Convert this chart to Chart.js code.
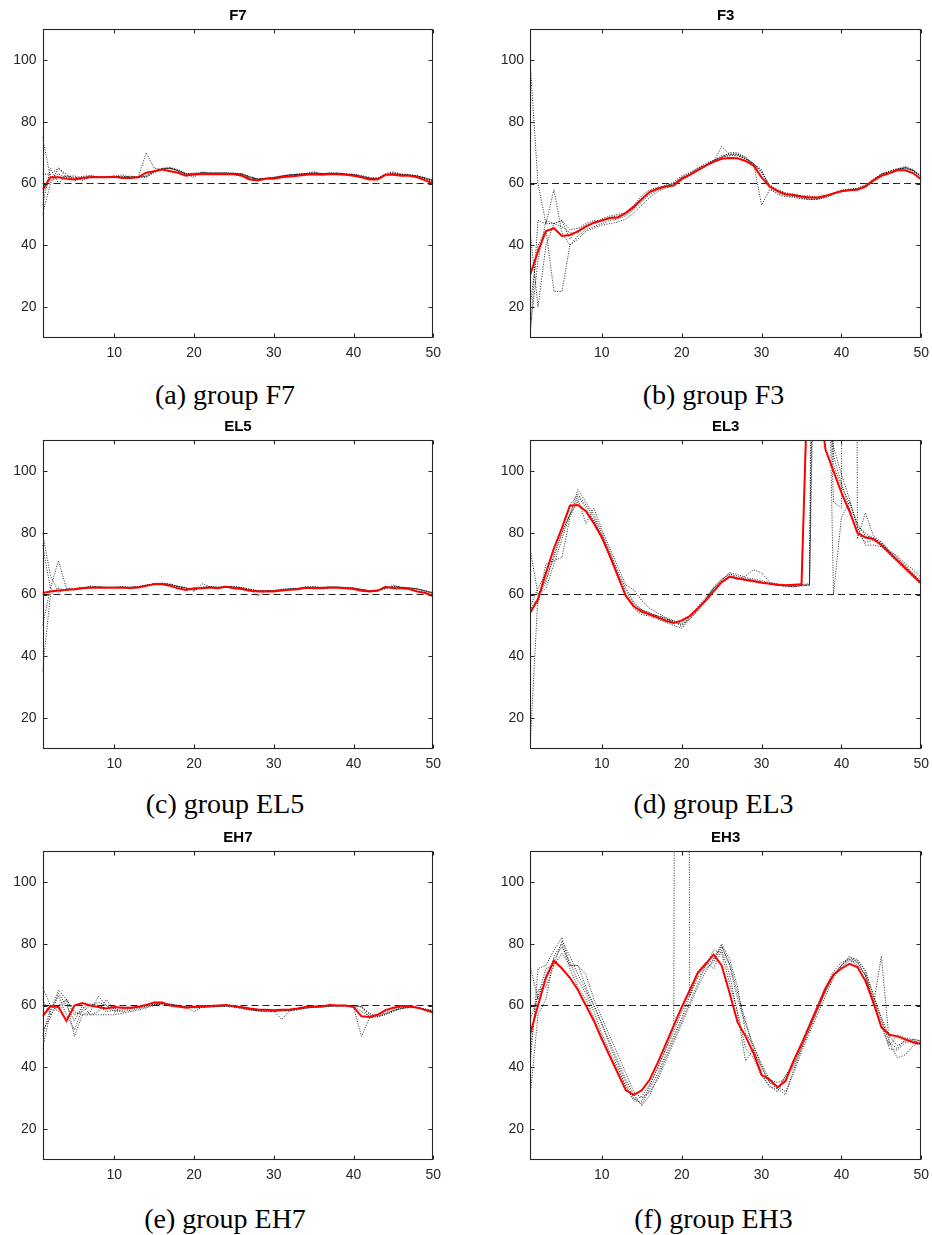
<!DOCTYPE html>
<html>
<head>
<meta charset="utf-8">
<script src="https://cdn.jsdelivr.net/npm/chart.js@4.4.1/dist/chart.umd.min.js"></script>
<style>
  html, body { margin: 0; padding: 0; background: #fff; }
  body { width: 932px; height: 1235px; position: relative; overflow: hidden; }
  canvas { position: absolute; display: block; }
  .cap { position: absolute; width: 400px; text-align: center; font-family: "Liberation Serif", "Times New Roman", serif;
         font-size: 28px; line-height: 28px; height: 28px; color: #000; white-space: nowrap; }
</style>
</head>
<body>
<canvas id="c0" width="466" height="370" style="left:0px;top:0px"></canvas>
<canvas id="c1" width="490" height="370" style="left:466px;top:0px"></canvas>
<canvas id="c2" width="466" height="370" style="left:0px;top:411.4px"></canvas>
<canvas id="c3" width="490" height="370" style="left:466px;top:411.4px"></canvas>
<canvas id="c4" width="466" height="370" style="left:0px;top:822.4px"></canvas>
<canvas id="c5" width="490" height="370" style="left:466px;top:822.4px"></canvas>
<div class="cap" style="left:25px;top:380.9px">(a) group F7</div>
<div class="cap" style="left:513.5px;top:380.9px">(b) group F3</div>
<div class="cap" style="left:25px;top:789.9px">(c) group EL5</div>
<div class="cap" style="left:513.5px;top:789.9px">(d) group EL3</div>
<div class="cap" style="left:25px;top:1204.9px">(e) group EH7</div>
<div class="cap" style="left:513.5px;top:1204.9px">(f) group EH3</div>
<script>
// ---------- data ----------
const steps = [1,2,3,4,5,6,7,8,9,10,11,12,13,14,15,16,17,18,19,20,21,22,23,24,25,26,27,28,29,30,31,32,33,34,35,36,37,38,39,40,41,42,43,44,45,46,47,48,49,50];
const xTicks = [10, 20, 30, 40, 50];
const yTicks = [20, 40, 60, 80, 100];
const targetLevel = 60;
const panelTitles = ['F7', 'F3', 'EL5', 'EL3', 'EH7', 'EH3'];

// F7
const f7Mean = [58,62,62,61.5,61.3,61.8,62,62,62,62.2,61.8,61.8,62,63.5,64,64.5,64,63.5,62.5,63,63,63,63,63,63,62.5,61.3,61,61.5,61.5,62,62.3,62.5,62.8,63,62.8,63,63,62.8,62.5,62,61.3,61.3,62.8,62.8,62.5,62.5,62,61,60];
const f7Runs = [
  [75,62,63,62,61.5,62,62.3,62,62.2,62.3,62,62,62.2,62.5,64,65,65,64,63,63.2,63.5,63.3,63.3,63.3,63.2,63,62,61.3,61.5,61.8,62.2,62.6,62.8,63,63.3,63,63.2,63.2,63,62.8,62.3,61.8,61.5,62.5,63.3,62.8,62.6,62.3,61.5,60.5],
  [50,60,65,63,61,61.5,62.5,62,62,62,62.3,62,62,62,63.5,64.8,65.2,64.5,63.3,62.5,63.3,63.5,63.4,63.2,63.3,63.2,62.3,61.5,61.6,62,62.5,62.8,63,63.2,63.5,63.2,63.3,63.4,63.2,63,62.6,62,61.8,62.8,63.5,63,62.8,62.5,61.8,61],
  [53,65,60,62.5,62,61,62,62.2,62,62.5,62,62.2,62.1,62.3,64,64.8,64.8,64.2,63.2,63,63.6,63.2,63.5,63.4,63.4,62.9,61.8,61.5,61.7,61.9,62.4,62.7,63.1,63.2,63.8,63.1,63.5,63.3,63.1,62.7,62.2,61.6,61.7,63,63,62.9,62.7,62.4,61.6,60.7],
  [63,63,65,62,61.8,62.3,62.6,62.1,62,62.2,62.8,62,62,70,65,64.5,65,64.3,63,63.4,63.3,63.4,63.3,63.5,63,63,62.2,61.4,61.6,61.8,62.3,62.9,62.9,63.1,63.4,63.3,63.2,63.3,62.9,62.9,62.4,61.7,61.5,63.2,63.8,63,62.9,62.5,61.7,61],
  [57,61,62,62.3,62.5,61.5,62,62.3,62.3,62.3,62.1,62.4,62.1,62.2,63.8,64.7,64.9,64.1,63.2,62,63.8,63.3,63.3,63.4,63.3,63.1,61.9,61.3,61.8,62,62.4,62.7,62.9,63.3,63.3,63.2,63.3,63.3,63.1,62.8,62.3,61.7,61.6,62.9,63.2,62.9,62.7,62.4,61.8,61]
];

// F3
const f3Mean = [30.3,38,44.6,45.5,43,43.3,44.5,46,47.3,48,48.8,49,50.5,52.5,55,57.3,58.3,59,59.3,61.5,62.8,64.3,65.8,67,68,68.3,68.2,67.3,65.8,62,59,57.5,56.5,56.3,55.8,55.5,55.5,56,56.8,57.5,57.8,58,59,61,62.5,63.3,64.3,64.3,63.3,61.3];
const f3Runs = [
  [100,60,47,47,48,42,45,46.5,47.5,48.5,49.5,50,50.5,52,55,57.5,58.5,59,60,62,63,64.5,66,67.5,68.5,69,69,68,66.5,63.5,59.5,58,57,56.5,56,56,55.5,56,57,57.8,58.2,58.3,59.5,61.5,63,64,64.8,65,64,62],
  [10,48,47,58,44,40,42,44.5,45.5,46.5,47,47.5,48.5,50.5,53,55.5,57.5,58.5,59.5,61,62.5,64,65.5,67,72,69.5,69.5,68,66,64,59,57.5,56.5,56,55.5,55,55,55.5,56.5,57.3,58,58.3,59,60.5,62.5,63.5,64.5,65,64,62.5],
  [20,40,45,25,25,40,43,45,46,47,48,48.5,49.5,51.5,54,56.5,58,59,60.5,62.5,63.5,65,66.5,67.5,68.5,70,70,68.5,66.5,53,58,57,56,55.8,55.3,54.8,55,56,56.8,57.5,58,58.5,59.5,61,63,64,64.8,65.5,64.5,62.3],
  [12,35,48,47,46,44,44,46,47,48,49,49.5,50,52,54.5,57,58.5,59.5,60,62,63.3,65,66,67.5,69,69.5,69.5,68.3,66.3,64.5,58.5,56.5,55.8,55.5,55,54.8,54.8,55.5,56.5,57.5,57.8,58,58.8,61,63,63.5,64.5,65.3,64.3,62],
  [45,20,40,47,48,45,45.5,47,48,48,49,49,50.5,53,56,58,58.8,59.2,59.8,61.8,62.8,64.5,66,67.3,68.5,69.3,69.2,68,66.5,63.8,59.5,57.8,56.8,56.3,55.8,55.5,55.3,55.8,56.8,57.8,58,58.2,59.2,61.2,63.2,63.8,64.6,65,64.2,62.2]
];

// EL5
const el5Mean = [60.5,61,61.3,61.5,61.7,62,62.2,62.2,62.2,62.2,62.2,62.1,62.3,62.8,63.3,63.3,62.8,62,61.5,62,62,62.3,62,62.5,62,61.8,61.2,61,61,61,61.3,61.5,61.7,62.2,62,62,62.2,62.2,62,61.8,61.2,61,61.2,62.5,62,62,61.8,61,60.5,59.5];
const el5Runs = [
  [80,66,61,61.5,61.8,62.2,62.5,62.4,62.3,62.3,62.4,62.2,62.5,63,63.5,63.6,63.2,62.5,62,61.5,62.3,62.5,62.3,62.7,62.4,62,61.5,61.2,61.2,61.1,61.5,61.7,61.9,62.3,62.4,62.2,62.3,62.4,62.3,62,61.5,61.2,61.3,62,62.5,62.2,62,61.7,61,60.3],
  [76,62,60.5,62,62,62.3,62.3,62.5,62.3,62.4,62.3,62.3,62.4,63,63.4,63.5,63.2,62.6,62.1,61,63.5,62.5,62.2,62.6,62.5,62.2,61.6,59.5,61.2,61.2,61.6,61.8,62,62.4,62.3,62.3,62.5,62.4,62.2,62.1,61.6,61.3,61.4,62.1,63,62.3,62.1,61.8,61.2,60.5],
  [50,62,71,62,61.5,61.8,62.8,62.3,62.4,62.3,62.5,62.4,62.6,63.1,63.4,63.7,63.3,62.7,62.2,61.4,62.4,62.4,62.4,62.5,62.4,62.3,61.7,61.3,61.3,61.3,61.6,61.9,61.8,62.5,62.6,62.2,62.4,62.3,62.3,62.1,61.6,61.2,61.5,61.8,62.7,62.4,62.2,61.8,61.2,60.6],
  [35,60,62,61.3,61.6,62.3,62.4,62.6,62.2,62.3,62.5,62.3,62.5,62.9,63.5,63.5,63.4,62.6,62.1,61.6,62.2,62.6,62.3,62.4,62.6,62.2,61.6,61.2,61.1,61.3,61.7,61.8,62,62.3,62.3,62.4,62.4,62.4,62.2,62.1,61.7,61.2,61.3,62.1,62.6,62.3,62.1,61.9,61.1,60.4]
];

// EL3
const el3Mean = [54,58.4,67,75,81.5,88.8,89,87,83,78.5,72.5,66,59.5,56.2,54.4,53.5,52.5,51.5,50.8,51.6,53,55.5,58,61,64,65.8,65.2,64.7,64.3,63.8,63.5,63.2,63,63.2,63.3,150,128,107,100,93,87,80,78.5,78,76,73.5,71,68.5,66,63.6];
const el3Runs = [
  [75,60,65,72,80,86,92,88,84,79,73,67,61,57,55,54,53,52,51,51,53,56,59,62.5,65,66.5,66,65,64.5,64,63.5,63,62.8,63,63.2,63.5,400,250,105,96,88,80,77,77.5,76.5,74,71.5,69,66.5,64],
  [10,60,62,70,78,86,94,90,86,80,74,67.5,62,57.5,55,53.5,53,52,51.5,49.5,52.5,55.5,58.5,62,64.5,67,66.5,65.5,65,64.5,63.8,63.5,63,62.5,63,63,300,200,60,85,90,82,80,78,77,74.5,72,69.5,67,64.5],
  [58,57,70,71,72,85,91,83,88,81,75,69,63,61.5,58,55.5,54,52.5,51.5,50,53,55,58,62,64.8,67,65,66,68,67,64,63.2,62.8,62.5,62.8,63.2,250,180,90,88,1000,78,86.5,79,77,74,72.5,70,68,65.5],
  [56,62,67,75,82,89,92.5,89,85,79.5,73,66,59.5,55.5,53.5,53,52,51,50,49,52,54.5,58,61.5,64,65.5,65,64.8,64.5,64,63.5,63,62.5,62.5,63,63,200,140,108,99,91,82,76,76,75.5,73,70.5,68,65.5,63],
  [55,59,64,73,80,86,90,87,84,78,72,65.5,60,56,55,54,53,52.5,51,50.5,52,55,58.5,62,64,66,65.5,65,64.5,64,63.5,63,63,63,63.5,150,300,160,102,95,90,83,79,78.5,76.5,74,71.5,69,66.5,64]
];

// EH7
const eh7Mean = [56.5,59.8,59.5,55,60,60.8,60,59.5,59,59.5,59.3,59.3,59.6,60.2,61,61,60,59.7,59.3,59.6,59.8,59.8,60,60.2,59.8,59.4,59,58.7,58.6,58.5,58.6,58.7,59,59.5,59.7,59.7,60.2,60,60,59.5,56.5,56.3,57,58.5,59.3,59.8,59.8,59.3,58.5,57.7];
const eh7Runs = [
  [66,60,58,62,57,58,60,61,60,59,59.5,59,59.5,60,60.5,60.8,60.3,59.8,59.6,59.5,59.7,59.8,59.9,60,59.9,59.5,59,58.6,58.5,58.4,58.5,58.6,59,59.4,59.6,59.8,60,60,60,59.8,58,56.5,57,58,59,59.5,59.6,59.3,58.6,58],
  [46,58,65,62,50,57,58,63,60,58,58.5,59,59.3,59.8,60.3,60.5,60.2,60,59.5,58,59.5,59.6,59.8,59.9,59.6,59.2,58.8,58.3,58.3,58.2,55.5,58.3,58.6,59.2,59.4,59.5,59.8,59.9,59.8,59.5,50,56,56.8,57.5,58.5,59,59.3,59.2,58.5,58.2],
  [52,56,64,60,55,60,57,57,57,57,57.5,58,58.5,59.2,60,60.5,60.3,59.9,59.5,59.2,59.3,59.5,59.6,59.7,59.4,59,58.5,58.2,58,58,58.2,58.3,58.7,59.2,59.4,59.6,59.7,59.8,59.9,59.9,59.8,57,56.3,57,58,59,59.5,59.4,58.9,58.4],
  [50,59,63,57,52,59,60.5,60,58,58.5,59,59.2,59.4,59.9,60.6,60.7,60.4,59.9,59.4,59.4,59.6,59.7,59.9,60,59.7,59.3,58.8,58.4,58.4,58.3,58.4,58.5,58.9,59.3,59.5,59.7,59.9,60,60,59.9,59.6,56,56.3,57.3,58.3,59.2,59.5,59.3,58.7,58.1],
  [62,57,60,62,58,57,57,58,62,58.5,58,58.5,59,59.5,60.2,60.6,60.5,60.1,59.6,59.3,59.4,59.6,59.7,59.8,59.6,59.1,58.6,58.3,58.2,58.1,58.3,58.4,58.8,59.1,59.4,59.6,59.8,59.9,59.9,59.9,59.5,57.5,56.5,57.2,58.4,59.2,59.6,59.4,58.8,58.2]
];

// EH3
const eh3Mean = [50.5,60,69,74.5,72,69,65,60,55,49,43.5,38,32.5,31,32.5,36,41.5,47.5,53.5,59.5,65,70.5,73.5,76.5,73,64,54.5,50,44.5,37.5,36,33.5,35.5,42,47.5,53.5,59.5,65.5,70,72,73.5,72.5,68,61,53,50.5,50,49,48,47.5];
const eh3Runs = [
  [40,72,73,78,82,73,73,66,60,54,47,41,35,30,28,33,38,44,50,56,63,69,72,74,79,73,62,54,47,40,35,34,32,38,45,51,57,63,69,73,75.5,75,71,63,56,48,46,49,48.5,48],
  [30,57,62,76,80,72,66,62,56,50,44,39,34,29,29,34,40,46,53,1000,63,71,74,72,78,70,57,42,46,38,33.5,33,37,42,48,54,60,66,71,74,75,73,70,60,76,48,43,44,47,48],
  [73,62,70,75,79,74,68,64,58,51,45,40,33.5,29.5,30.5,34.5,39.5,45.5,51.5,58,64,70,73,75,79.5,73.5,64,55,45.5,40,35,33,31,39,46,52,58.5,64.5,70,73,76,74,70,62,55,46,45.5,48,48.5,47.5],
  [45,65,66,73,81,76,70,65,60,54,48,42,36,31,27.5,31,37,43,49,55,61,67,73,78,77,67,58,46,43,37,34,32,37.5,40,46.5,52.5,58.5,64.5,69.5,72.5,74.5,74,69.5,61,53,47,50.5,49.5,49,48.5],
  [55,63,72,73,77,73,73,70,62,56,50,44,38,32,30,32,36,42,48,54,60,66,71,75,80,75,66,51,47,41,36,35,36,41,47,53,59,65,70,73,75,74.5,71.5,63.5,56,50,47,48.5,49,48.5]
];

const panelMeans = [f7Mean, f3Mean, el5Mean, el3Mean, eh7Mean, eh3Mean];
const panelRuns = [f7Runs, f3Runs, el5Runs, el3Runs, eh7Runs, eh3Runs];

// ---------- drawing ----------
const AX = '#262626';
const toPoints = arr => arr.map((v, i) => ({ x: steps[i], y: v }));

const framePlugin = {
  id: 'frame',
  afterDraw(chart) {
    const { ctx, chartArea: a, scales: { x, y } } = chart;
    ctx.save();
    ctx.strokeStyle = AX;
    ctx.lineWidth = 1.1;
    const L = Math.round(a.left) + 0.5, R = Math.round(a.right) - 0.5;
    const T = Math.round(a.top) + 0.5, B = Math.round(a.bottom) - 0.5;
    ctx.strokeRect(L, T, R - L, B - T);
    ctx.beginPath();
    xTicks.forEach(v => {
      const px = Math.round(x.getPixelForValue(v)) + 0.5;
      ctx.moveTo(px, B); ctx.lineTo(px, B - 4);
      ctx.moveTo(px, T); ctx.lineTo(px, T + 4);
    });
    yTicks.forEach(v => {
      const py = Math.round(y.getPixelForValue(v)) + 0.5;
      ctx.moveTo(L, py); ctx.lineTo(L + 4, py);
      ctx.moveTo(R, py); ctx.lineTo(R - 4, py);
    });
    ctx.stroke();
    ctx.restore();
  }
};

function makePanel(idx) {
  const isRight = idx % 2 === 1;
  const yWidth = isRight ? 64 : 42.5;
  const padRight = isRight ? 34.7 : 32.7;
  const datasets = [];
  datasets.push({
    data: toPoints(panelMeans[idx]), borderColor: '#ff0000', borderWidth: 2,
    pointRadius: 0, tension: 0, order: 0, clip: 0
  });
  datasets.push({
    data: steps.map(s => ({ x: s, y: targetLevel })), borderColor: '#1e1e1e', borderWidth: 1,
    borderDash: [7, 4], pointRadius: 0, order: 1, clip: 0
  });
  panelRuns[idx].forEach(run => {
    datasets.push({
      data: toPoints(run), borderColor: 'rgba(0,0,0,0.85)', borderWidth: 1,
      borderDash: [1, 1.5], pointRadius: 0, tension: 0, order: 2, clip: 0
    });
  });
  new Chart(document.getElementById('c' + idx), {
    type: 'line',
    data: { datasets },
    options: {
      responsive: false, animation: false, devicePixelRatio: 1,
      layout: { padding: { left: 0, right: padRight, top: 0, bottom: 0 } },
      plugins: {
        legend: { display: false }, tooltip: { enabled: false },
        title: {
          display: true, text: panelTitles[idx], color: '#000', fullSize: false,
          font: { family: 'Liberation Sans', size: 15, weight: 'bold', lineHeight: 1.2 },
          padding: { top: 7.3, bottom: 4 }
        }
      },
      scales: {
        x: {
          type: 'linear', min: 1, max: 50,
          afterBuildTicks: s => { s.ticks = xTicks.map(v => ({ value: v })); },
          afterFit: s => { s.height = 32.3; },
          grid: { display: false, drawTicks: false }, border: { display: false },
          ticks: { color: AX, padding: 7, maxRotation: 0, autoSkip: false,
                   font: { family: 'Liberation Sans', size: 14 } }
        },
        y: {
          type: 'linear', min: 10, max: 110,
          afterBuildTicks: s => { s.ticks = yTicks.map(v => ({ value: v })); },
          afterFit: s => { s.width = yWidth; },
          grid: { display: false, drawTicks: false }, border: { display: false },
          ticks: { color: AX, padding: 6, autoSkip: false,
                   font: { family: 'Liberation Sans', size: 14 } }
        }
      }
    },
    plugins: [framePlugin]
  });
}
for (let i = 0; i < 6; i++) makePanel(i);
</script>
</body>
</html>
